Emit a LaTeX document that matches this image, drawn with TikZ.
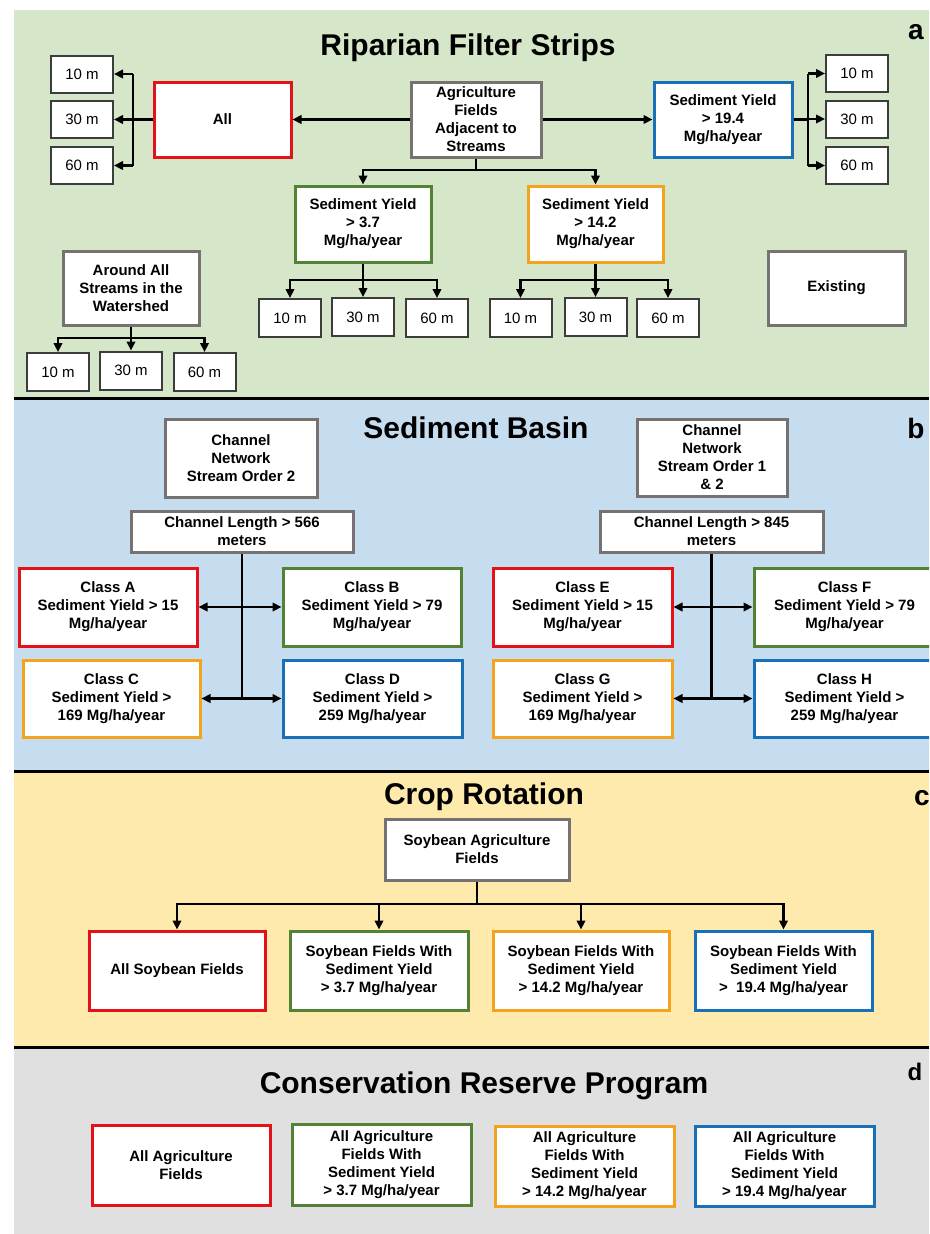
\documentclass[tikz,border=0pt]{standalone}
\usepackage{fontspec}
\setmainfont{Liberation Sans}
\usepackage{tikz}
\usetikzlibrary{arrows.meta}

\definecolor{greenbg}{RGB}{213,231,200}
\definecolor{bluebg}{RGB}{198,220,239}
\definecolor{yellowbg}{RGB}{254,234,172}
\definecolor{graybg}{RGB}{224,224,224}
\definecolor{boxred}{RGB}{228,18,24}
\definecolor{boxgreen}{RGB}{84,130,53}
\definecolor{boxorange}{RGB}{243,163,30}
\definecolor{boxblue}{RGB}{24,112,184}
\definecolor{boxgray}{RGB}{118,114,114}
\definecolor{mgray}{RGB}{60,60,60}

\begin{document}
\begin{tikzpicture}[x=1pt,y=-1pt,
  font=\bfseries\fontsize{15}{18}\selectfont,
  bx/.style={draw=#1,fill=white,line width=3pt,align=center,inner sep=1pt},
  mb/.style={draw=mgray,fill=white,line width=2pt,minimum width=62,minimum height=37,
    font=\normalfont\mdseries\fontsize{15}{18}\selectfont},
  ttl/.style={anchor=base,font=\bfseries\fontsize{30}{36}\selectfont},
  lbl/.style={anchor=base,font=\bfseries\fontsize{28}{34}\selectfont},
  ln/.style={line width=2.5pt},
  ar/.style={ln,-{Triangle[length=9pt,width=8.5pt]}},
  dar/.style={ln,{Triangle[length=9pt,width=8.5pt]}-{Triangle[length=9pt,width=8.5pt]}}]
\useasboundingbox (0,0) rectangle (929,1234);
\clip (0,0) rectangle (929,1234);

% panels
\fill[greenbg] (14,10) rectangle (929,397);
\fill[bluebg] (14,399) rectangle (929,770);
\fill[yellowbg] (14,772) rectangle (929,1046);
\fill[graybg] (14,1048) rectangle (929,1234);
\draw[line width=3pt] (14,398) -- (929,398);
\draw[line width=3pt] (14,771) -- (929,771);
\draw[line width=3pt] (14,1047) -- (929,1047);

% (a) riparian filter strips
\node[ttl] (tA) at (468,55) {Riparian Filter Strips};
\node[lbl] (la) at (916,39) {a};
\node[mb] (l10) at (82,74) {10 m};
\node[mb] (l30) at (82,119.5) {30 m};
\node[mb] (l60) at (82,165.5) {60 m};
\node[bx=boxred,minimum width=137,minimum height=75] (all) at (222.5,119.5) {All};
\node[bx=boxgray,minimum width=130,minimum height=75] (agri) at (476,119.5)
  {Agriculture\\Fields\\Adjacent to\\Streams};
\node[bx=boxblue,minimum width=138,minimum height=75] (sy194) at (723,119.5)
  {Sediment Yield\\> 19.4\\Mg/ha/year};
\node[mb] (r10) at (857,73.5) {10 m};
\node[mb] (r30) at (857,119) {30 m};
\node[mb] (r60) at (857,165.5) {60 m};
\node[bx=boxgreen,minimum width=136,minimum height=76] (sy37) at (363,224)
  {Sediment Yield\\> 3.7\\Mg/ha/year};
\node[bx=boxorange,minimum width=135,minimum height=76] (sy142) at (595.5,224)
  {Sediment Yield\\> 14.2\\Mg/ha/year};
\node[mb,minimum height=38] (g10) at (290,318) {10 m};
\node[mb,minimum height=38] (g30) at (363,317) {30 m};
\node[mb,minimum height=38] (g60) at (437,318) {60 m};
\node[mb,minimum height=38] (o10) at (520.5,318) {10 m};
\node[mb,minimum height=38] (o30) at (595.5,317) {30 m};
\node[mb,minimum height=38] (o60) at (668,318) {60 m};
\node[bx=boxgray,minimum width=137,minimum height=74] (exist) at (836.5,288) {Existing};
\node[bx=boxgray,minimum width=136,minimum height=74] (around) at (131,288)
  {Around All\\Streams in the\\Watershed};
\node[mb,minimum height=38] (w10) at (58,372) {10 m};
\node[mb,minimum height=38] (w30) at (131,370.5) {30 m};
\node[mb,minimum height=38] (w60) at (204.5,372) {60 m};

\draw[ar] (agri) -- (all);
\draw[ar] (agri) -- (sy194);
\coordinate (jl) at (133,119.5);
\draw[ln] (all) -- (jl);
\draw[ln] (jl |- l10) -- (jl |- l60);
\foreach \m in {l10,l30,l60} \draw[ar] (jl |- \m) -- (\m);
\coordinate (jr) at (808,119.5);
\draw[ln] (sy194) -- (jr);
\draw[ln] (jr |- r10) -- (jr |- r60);
\foreach \m in {r10,r30,r60} \draw[ar] (jr |- \m) -- (\m);
\coordinate (ja) at (476,170);
\draw[ln] (agri) -- (ja);
\draw[ar] (ja) -| (sy37);
\draw[ar] (ja) -| (sy142);
\coordinate (jg) at (363,280);
\draw[ln] (sy37) -- (jg);
\foreach \m in {g10,g30,g60} \draw[ar] (jg) -| (\m);
\coordinate (jo) at (595.5,280);
\draw[ln] (sy142) -- (jo);
\foreach \m in {o10,o30,o60} \draw[ar] (jo) -| (\m);
\coordinate (jw) at (131,338);
\draw[ln] (around) -- (jw);
\foreach \m in {w10,w30,w60} \draw[ar] (jw) -| (\m);

% (b) sediment basin
\node[ttl] (tB) at (476,438) {Sediment Basin};
\node[lbl] (lb) at (916,438) {b};
\node[bx=boxgray,minimum width=152,minimum height=78] (cn2) at (241,458)
  {Channel\\Network\\Stream Order 2};
\node[bx=boxgray,minimum width=222,minimum height=41] (cl566) at (242,531.5)
  {Channel Length > 566\\meters};
\node[bx=boxred,minimum width=178,minimum height=78] (clA) at (108,607)
  {Class A\\Sediment Yield > 15\\Mg/ha/year};
\node[bx=boxgreen,minimum width=178,minimum height=78] (clB) at (372,607)
  {Class B\\Sediment Yield > 79\\Mg/ha/year};
\node[bx=boxorange,minimum width=177,minimum height=77] (clC) at (111.5,698.5)
  {Class C\\Sediment Yield >\\169 Mg/ha/year};
\node[bx=boxblue,minimum width=179,minimum height=77] (clD) at (372.5,698.5)
  {Class D\\Sediment Yield >\\259 Mg/ha/year};
\node[bx=boxgray,minimum width=150,minimum height=77] (cn12) at (712,457.5)
  {Channel\\Network\\Stream Order 1\\\& 2};
\node[bx=boxgray,minimum width=223,minimum height=41] (cl845) at (711.5,531.5)
  {Channel Length > 845\\meters};
\node[bx=boxred,minimum width=179,minimum height=78] (clE) at (582.5,607)
  {Class E\\Sediment Yield > 15\\Mg/ha/year};
\node[bx=boxgreen,minimum width=181,minimum height=78] (clF) at (844.5,607)
  {Class F\\Sediment Yield > 79\\Mg/ha/year};
\node[bx=boxorange,minimum width=179,minimum height=77] (clG) at (582.5,698.5)
  {Class G\\Sediment Yield >\\169 Mg/ha/year};
\node[bx=boxblue,minimum width=181,minimum height=77] (clH) at (844.5,698.5)
  {Class H\\Sediment Yield >\\259 Mg/ha/year};

\draw[ln] (cl566) -- (cl566 |- clC);
\draw[dar] (clA) -- (clB);
\draw[dar] (clC) -- (clD);
\draw[ln] (cl845) -- (cl845 |- clG);
\draw[dar] (clE) -- (clF);
\draw[dar] (clG) -- (clH);

% (c) crop rotation
\node[ttl] (tC) at (484,804) {Crop Rotation};
\node[lbl] (lc) at (922,805) {c};
\node[bx=boxgray,minimum width=184,minimum height=61] (soy) at (477,849.5)
  {Soybean Agriculture\\Fields};
\node[bx=boxred,minimum width=176,minimum height=79] (sAll) at (177,970.5) {All Soybean Fields};
\node[bx=boxgreen,minimum width=178,minimum height=79] (s37) at (379,970.5)
  {Soybean Fields With\\Sediment Yield\\> 3.7 Mg/ha/year};
\node[bx=boxorange,minimum width=176,minimum height=79] (s142) at (581,970.5)
  {Soybean Fields With\\Sediment Yield\\> 14.2 Mg/ha/year};
\node[bx=boxblue,minimum width=177,minimum height=79] (s194) at (783.5,970.5)
  {Soybean Fields With\\Sediment Yield\\>\ \ 19.4 Mg/ha/year};
\coordinate (js) at (477,904);
\draw[ln] (soy) -- (js);
\foreach \m in {sAll,s37,s142,s194} \draw[ar] (js) -| (\m);

% (d) conservation reserve program
\node[ttl] (tD) at (484,1093) {Conservation Reserve Program};
\node[lbl,font=\bfseries\fontsize{24}{28}\selectfont] (ld) at (915,1080) {d};
\node[bx=boxred,minimum width=178,minimum height=80] (cAll) at (181,1165.5)
  {All Agriculture\\Fields};
\node[bx=boxgreen,minimum width=179,minimum height=81] (c37) at (381.5,1165)
  {All Agriculture\\Fields With\\Sediment Yield\\> 3.7 Mg/ha/year};
\node[bx=boxorange,minimum width=179,minimum height=80] (c142) at (584.5,1166)
  {All Agriculture\\Fields With\\Sediment Yield\\> 14.2 Mg/ha/year};
\node[bx=boxblue,minimum width=179,minimum height=80] (c194) at (784.5,1166)
  {All Agriculture\\Fields With\\Sediment Yield\\> 19.4 Mg/ha/year};
\end{tikzpicture}
\end{document}
